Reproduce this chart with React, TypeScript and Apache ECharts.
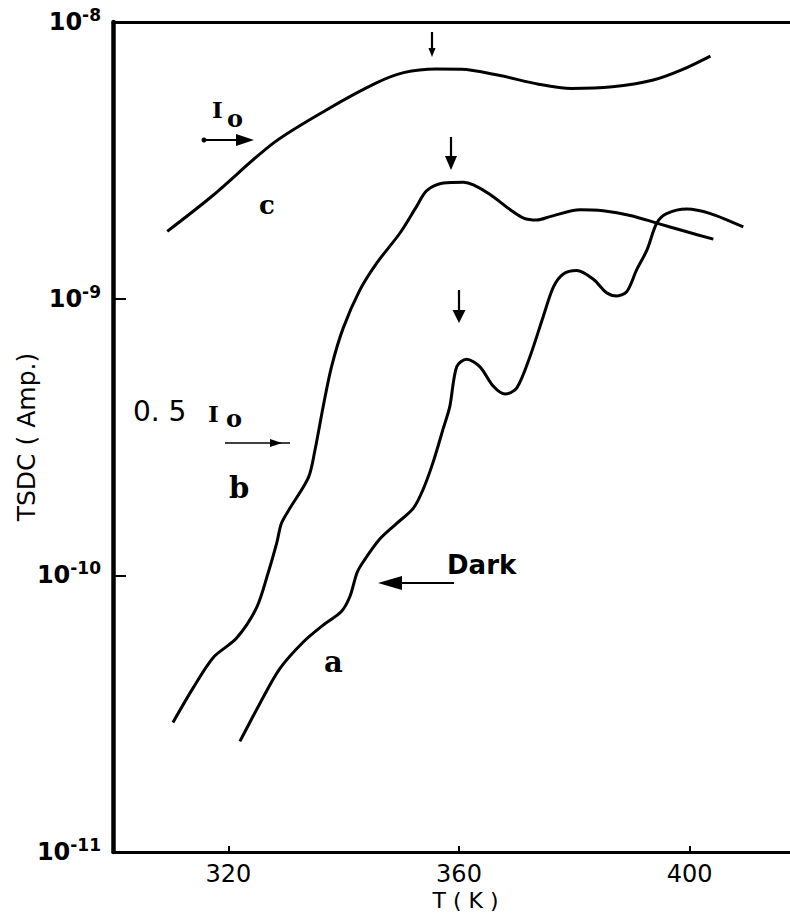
import React, { useEffect, useRef } from "react";
import * as echarts from "echarts";

// Curve a (Dark)
const tempA = [322.0, 325.5, 328.9, 333.0, 336.5, 339.6, 341.1, 342.3, 343.4, 346.3, 349.2, 352.1, 353.8, 355.5, 357.3, 358.4, 359.6, 361.3, 363.6, 366.0, 368.0, 370.0, 372.3, 374.6, 376.4, 378.1, 380.4, 383.3, 385.6, 387.4, 389.1, 390.8, 392.6, 394.3, 396.0, 399.5, 403.6, 409.3];
const currA = [2.51e-11, 3.45e-11, 4.59e-11, 5.74e-11, 6.62e-11, 7.4e-11, 8.4e-11, 1.02e-10, 1.12e-10, 1.355e-10, 1.54e-10, 1.75e-10, 2.05e-10, 2.56e-10, 3.41e-10, 4.07e-10, 5.68e-10, 6.04e-10, 5.68e-10, 4.81e-10, 4.52e-10, 4.75e-10, 6.17e-10, 8.61e-10, 1.105e-9, 1.228e-9, 1.263e-9, 1.175e-9, 1.051e-9, 1.023e-9, 1.06e-9, 1.27e-9, 1.5e-9, 1.876e-9, 2.03e-9, 2.109e-9, 2.03e-9, 1.816e-9];

// Curve b (0.5 Io)
const tempB = [310.4, 313.9, 317.4, 321.4, 324.9, 326.9, 328.4, 329.2, 330.7, 333.9, 335.0, 336.5, 337.9, 339.9, 342.8, 345.7, 349.8, 352.7, 354.4, 357.3, 360.8, 362.5, 365.4, 368.9, 371.2, 373.5, 375.8, 381.0, 385.0, 389.7, 394.3, 398.9, 404.1];
const currB = [2.94e-11, 3.92e-11, 5.05e-11, 5.92e-11, 7.64e-11, 1.02e-10, 1.31e-10, 1.54e-10, 1.75e-10, 2.26e-10, 2.82e-10, 4.13e-10, 5.68e-10, 7.81e-10, 1.074e-9, 1.342e-9, 1.731e-9, 2.165e-9, 2.459e-9, 2.619e-9, 2.636e-9, 2.578e-9, 2.38e-9, 2.096e-9, 1.954e-9, 1.923e-9, 1.98e-9, 2.096e-9, 2.077e-9, 1.999e-9, 1.876e-9, 1.759e-9, 1.641e-9];

// Curve c (Io)
const tempC = [309.4, 317.1, 327.8, 337.0, 345.5, 350.4, 356.1, 360.4, 366.7, 373.8, 379.5, 386.6, 393.7, 398.6, 403.6];
const currC = [1.75e-9, 2.34e-9, 3.65e-9, 4.81e-9, 6.0e-9, 6.56e-9, 6.76e-9, 6.75e-9, 6.43e-9, 5.96e-9, 5.75e-9, 5.83e-9, 6.17e-9, 6.71e-9, 7.53e-9];

const xTicks = [320, 360, 400];

const SANS = "DejaVu Sans";
const SERIF = "DejaVu Serif";

function pairs(t: number[], v: number[]) {
  return t.map((x, i) => [x, v[i]]);
}

function vArrow(x: number, y1: number, y2: number, hw: number, hl: number) {
  return [
    { type: "line", shape: { x1: x, y1, x2: x, y2: y2 - hl + 1 }, style: { stroke: "#000", lineWidth: 2.2 } },
    { type: "polygon", shape: { points: [[x - hw, y2 - hl], [x + hw, y2 - hl], [x, y2]] }, style: { fill: "#000" } },
  ];
}

export default function App() {
  const ref = useRef<HTMLDivElement>(null);
  useEffect(() => {
    if (!ref.current) return;
    const chart = echarts.init(ref.current, null, { renderer: "svg" });
    const lineCommon = {
      type: "line",
      showSymbol: false,
      smooth: 0.3,
      lineStyle: { color: "#000", width: 3 },
      silent: true,
    };
    const option: any = {
      animation: false,
      backgroundColor: "#fff",
      grid: { left: 113, right: 0, top: 22, bottom: 62, containLabel: false, outerBoundsMode: "none" },
      xAxis: [
        {
          type: "value",
          min: 300,
          max: 417.4,
          position: "bottom",
          name: "T ( K )",
          nameLocation: "middle",
          nameGap: 37,
          nameMoveOverlap: false,
          nameTextStyle: { fontFamily: SANS, fontSize: 22, lineHeight: 22, color: "#000", padding: [0, 0, 0, 28] },
          axisLine: { show: true, lineStyle: { color: "#000", width: 3 } },
          axisTick: { show: true, inside: true, length: 6, lineStyle: { color: "#000", width: 2 }, customValues: xTicks },
          axisLabel: { fontFamily: SANS, fontSize: 24, lineHeight: 24, color: "#000", margin: 10, customValues: xTicks },
          splitLine: { show: false },
        },
        {
          type: "value",
          min: 300,
          max: 417.4,
          position: "top",
          axisLine: { show: true, lineStyle: { color: "#000", width: 3 } },
          axisTick: { show: false },
          axisLabel: { show: false },
          splitLine: { show: false },
        },
      ],
      yAxis: {
        type: "log",
        logBase: 10,
        min: 1e-11,
        max: 1e-8,
        name: "TSDC ( Amp.)",
        nameLocation: "middle",
        nameGap: 74,
        nameMoveOverlap: false,
        nameRotate: 90,
        nameTextStyle: { fontFamily: SANS, fontSize: 25, color: "#000" },
        axisLine: { show: true, lineStyle: { color: "#000", width: 4.5 } },
        axisTick: { show: true, inside: true, length: 13, lineStyle: { color: "#000", width: 2 } },
        minorTick: { show: false },
        splitLine: { show: false },
        axisLabel: {
          margin: 12,
          formatter: (v: number) => {
            const e = Math.round(Math.log10(v));
            return "{b|10}{s|" + e + "}";
          },
          rich: {
            b: { fontFamily: SANS, fontSize: 24, fontWeight: "bold", color: "#000", lineHeight: 30 },
            s: { fontFamily: SANS, fontSize: 17, fontWeight: "bold", color: "#000", padding: [0, 0, 14, 0], lineHeight: 30 },
          },
        },
      },
      series: [
        { ...lineCommon, name: "a", data: pairs(tempA, currA) },
        { ...lineCommon, name: "b", data: pairs(tempB, currB) },
        { ...lineCommon, name: "c", data: pairs(tempC, currC) },
      ],
      graphic: [
        // Io label + arrow (curve c)
        { type: "text", left: 212, top: 98, style: { text: "I", font: `bold 23px "${SERIF}"`, fill: "#000" } },
        { type: "text", left: 227, top: 106, style: { text: "o", font: `bold 24px "${SERIF}"`, fill: "#000" } },
        { type: "circle", shape: { cx: 204, cy: 140, r: 2.5 }, style: { fill: "#000" } },
        { type: "line", shape: { x1: 204, y1: 140, x2: 240, y2: 140 }, style: { stroke: "#000", lineWidth: 2.2 } },
        { type: "polygon", shape: { points: [[236, 134], [254, 140], [236, 146]] }, style: { fill: "#000" } },
        { type: "text", left: 259, top: 192, style: { text: "c", font: `bold 26px "${SERIF}"`, fill: "#000" } },
        // peak arrows
        ...vArrow(432, 32, 57, 3.5, 9),
        ...vArrow(451, 137, 170, 6, 14),
        ...vArrow(459, 290, 323, 6.5, 13),
        // 0.5 Io label + arrow (curve b)
        { type: "text", left: 133, top: 397, style: { text: "0. 5", font: `500 28px "${SANS}"`, fill: "#000" } },
        { type: "text", left: 208, top: 402, style: { text: "I", font: `bold 23px "${SERIF}"`, fill: "#000" } },
        { type: "text", left: 226, top: 406, style: { text: "o", font: `bold 24px "${SERIF}"`, fill: "#000" } },
        { type: "line", shape: { x1: 225, y1: 443, x2: 290, y2: 443 }, style: { stroke: "#000", lineWidth: 1.6 } },
        { type: "polygon", shape: { points: [[270, 439], [282, 443], [270, 447]] }, style: { fill: "#000" } },
        { type: "text", left: 229, top: 473, style: { text: "b", font: `bold 29px "${SERIF}"`, fill: "#000" } },
        // Dark label + arrow (curve a)
        { type: "text", left: 447, top: 552, style: { text: "Dark", font: `600 26px "${SANS}"`, fill: "#000" } },
        { type: "line", shape: { x1: 454, y1: 583, x2: 398, y2: 583 }, style: { stroke: "#000", lineWidth: 2.2 } },
        { type: "polygon", shape: { points: [[402, 576], [378, 583], [402, 590]] }, style: { fill: "#000" } },
        { type: "text", left: 324, top: 647, style: { text: "a", font: `bold 29px "${SERIF}"`, fill: "#000" } },
      ],
    };
    chart.setOption(option);
    return () => chart.dispose();
  }, []);
  return (
    <div
      ref={ref}
      style={{ position: "fixed", left: 0, top: 0, width: 790, height: 914, background: "#fff" }}
    />
  );
}
